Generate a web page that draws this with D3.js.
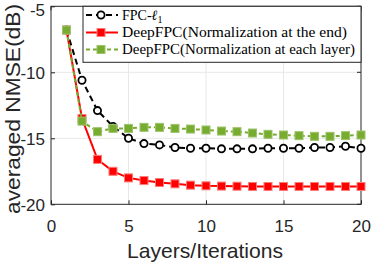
<!DOCTYPE html>
<html>
<head>
<meta charset="utf-8">
<script src="https://cdn.jsdelivr.net/npm/d3@7"></script>
<style>
  body { margin: 0; background: #fff; }
  svg { display: block; }
</style>
</head>
<body>
<svg width="372" height="262"></svg>
<script>
// layers 1..20
const layers = d3.range(1, 21);

const fpc = [-6.8, -10.6, -12.9, -14.1, -15.0, -15.4, -15.5, -15.7, -15.75, -15.75,
  -15.8, -15.8, -15.8, -15.75, -15.75, -15.75, -15.7, -15.7, -15.6, -15.75];
const deepEnd = [-6.8, -13.5, -16.6, -17.5, -18.0, -18.2, -18.35, -18.45, -18.55, -18.6,
  -18.62, -18.63, -18.65, -18.65, -18.65, -18.65, -18.65, -18.65, -18.65, -18.65];
const deepEach = [-6.8, -13.7, -14.5, -14.25, -14.25, -14.17, -14.17, -14.25, -14.3, -14.37,
  -14.45, -14.5, -14.6, -14.7, -14.75, -14.8, -14.85, -14.85, -14.8, -14.75];

const xTicks = [0, 5, 10, 15, 20];
const yTicks = [-5, -10, -15, -20];

const plotLeft = 51, plotRight = 361, plotTop = 6.3, plotBottom = 204.3;
const axisColor = "#262626";
const sans = "Liberation Sans, Arial, sans-serif";

const svg = d3.select("svg");

const x = d3.scaleLinear().domain([0, 20]).range([plotLeft, plotRight]);
const y = d3.scaleLinear().domain([-20, -5]).range([plotBottom, plotTop]);

// grid
svg.append("g").selectAll("line").data(xTicks.slice(1, -1)).enter().append("line")
  .attr("x1", d => x(d)).attr("x2", d => x(d))
  .attr("y1", plotTop).attr("y2", plotBottom)
  .attr("stroke", "#e8e8e8").attr("stroke-width", 1);
svg.append("g").selectAll("line").data(yTicks.slice(1, -1)).enter().append("line")
  .attr("y1", d => y(d)).attr("y2", d => y(d))
  .attr("x1", plotLeft).attr("x2", plotRight)
  .attr("stroke", "#e8e8e8").attr("stroke-width", 1);

// axes (inward ticks, box)
const xAxis = d3.axisBottom(x).tickValues(xTicks).tickSize(-4).tickPadding(15.5);
const yAxis = d3.axisLeft(y).tickValues(yTicks).tickSize(-4).tickPadding(6)
  .tickFormat(d => d);

const gx = svg.append("g").attr("transform", `translate(0,${plotBottom})`).call(xAxis);
const gy = svg.append("g").attr("transform", `translate(${plotLeft},0)`).call(yAxis);
[gx, gy].forEach(g => {
  g.select(".domain").remove();
  g.selectAll("line").attr("stroke", axisColor);
  g.selectAll("text").attr("fill", axisColor)
    .attr("font-family", sans).attr("font-size", 17);
});
// top label sits a little lower, as in the original export
gy.selectAll("text").attr("dy", d => d === -5 ? "0.55em" : "0.36em");

// top/right ticks
svg.append("g").selectAll("line").data(xTicks).enter().append("line")
  .attr("x1", d => x(d)).attr("x2", d => x(d)).attr("y1", plotTop).attr("y2", plotTop + 4)
  .attr("stroke", axisColor);
svg.append("g").selectAll("line").data(yTicks).enter().append("line")
  .attr("y1", d => y(d)).attr("y2", d => y(d)).attr("x1", plotRight).attr("x2", plotRight - 4)
  .attr("stroke", axisColor);

svg.append("rect")
  .attr("x", plotLeft).attr("y", plotTop)
  .attr("width", plotRight - plotLeft).attr("height", plotBottom - plotTop)
  .attr("fill", "none").attr("stroke", axisColor).attr("stroke-width", 1);

// labels
svg.append("text")
  .attr("x", 205).attr("y", 258)
  .attr("text-anchor", "middle")
  .attr("font-family", sans).attr("font-size", 21)
  .attr("fill", axisColor)
  .attr("textLength", 156).attr("lengthAdjust", "spacingAndGlyphs")
  .text("Layers/Iterations");

svg.append("text")
  .attr("transform", "translate(20,109) rotate(-90)")
  .attr("text-anchor", "middle")
  .attr("font-family", sans).attr("font-size", 21)
  .attr("fill", axisColor)
  .attr("textLength", 210).attr("lengthAdjust", "spacingAndGlyphs")
  .text("averaged NMSE(dB)");

// series
const series = [
  { name: "fpc", values: fpc, color: "#000000", dash: "6,4", marker: "circle" },
  { name: "end", values: deepEnd, color: "#ff0000", dash: null, marker: "square" },
  { name: "each", values: deepEach, color: "#77ac30", dash: "4,3", marker: "square2" }
];

const line = d3.line().x((d, i) => x(layers[i])).y(d => y(d));

function drawMarker(g, type, color) {
  if (type === "circle") {
    g.append("circle").attr("r", 3.6).attr("fill", "#fff")
      .attr("stroke", color).attr("stroke-width", 1.8);
  } else if (type === "square") {
    g.append("rect").attr("x", -4).attr("y", -4).attr("width", 8).attr("height", 8)
      .attr("fill", "#ff0000").attr("stroke", "#ff7a7a").attr("stroke-width", 1);
  } else {
    g.append("rect").attr("x", -4).attr("y", -4).attr("width", 8).attr("height", 8)
      .attr("fill", color).attr("stroke", "#9cc46a").attr("stroke-width", 1);
  }
}

// draw in order: black, red, green on top
series.forEach(s => {
  svg.append("path")
    .datum(s.values)
    .attr("d", line)
    .attr("fill", "none")
    .attr("stroke", s.color)
    .attr("stroke-width", 2)
    .attr("stroke-dasharray", s.dash);
  svg.append("g").selectAll("g").data(s.values).enter().append("g")
    .attr("transform", (d, i) => `translate(${x(layers[i])},${y(d)})`)
    .each(function () { drawMarker(d3.select(this), s.marker, s.color); });
});

// legend
const legend = svg.append("g");
legend.append("rect")
  .attr("x", 83).attr("y", plotTop).attr("width", plotRight - 83).attr("height", 56)
  .attr("fill", "#fff").attr("stroke", axisColor).attr("stroke-width", 1);

const legendRows = [15, 32.5, 49.5];
series.forEach((s, i) => {
  const ly = legendRows[i];
  legend.append("line")
    .attr("x1", 86).attr("x2", 118).attr("y1", ly).attr("y2", ly)
    .attr("stroke", s.color).attr("stroke-width", 2)
    .attr("stroke-dasharray", s.dash);
  const m = legend.append("g").attr("transform", `translate(101,${ly})`);
  drawMarker(m, s.marker, s.color);
});

const t0 = legend.append("text").attr("x", 122).attr("y", legendRows[0] + 4.5)
  .attr("font-family", "Liberation Serif, serif").attr("font-size", 14).attr("fill", "#000");
t0.append("tspan").text("FPC-");
t0.append("tspan").attr("font-style", "italic").text("ℓ");
t0.append("tspan").attr("font-size", 10).attr("dy", 3).text("1");

legend.append("text").attr("x", 122).attr("y", legendRows[1] + 4.5)
  .attr("font-family", "Liberation Serif, serif").attr("font-size", 14).attr("fill", "#000")
  .attr("textLength", 225).attr("lengthAdjust", "spacingAndGlyphs")
  .text("DeepFPC(Normalization at the end)");
legend.append("text").attr("x", 122).attr("y", legendRows[2] + 4.5)
  .attr("font-family", "Liberation Serif, serif").attr("font-size", 14).attr("fill", "#000")
  .attr("textLength", 233).attr("lengthAdjust", "spacingAndGlyphs")
  .text("DeepFPC(Normalization at each layer)");
</script>
</body>
</html>
